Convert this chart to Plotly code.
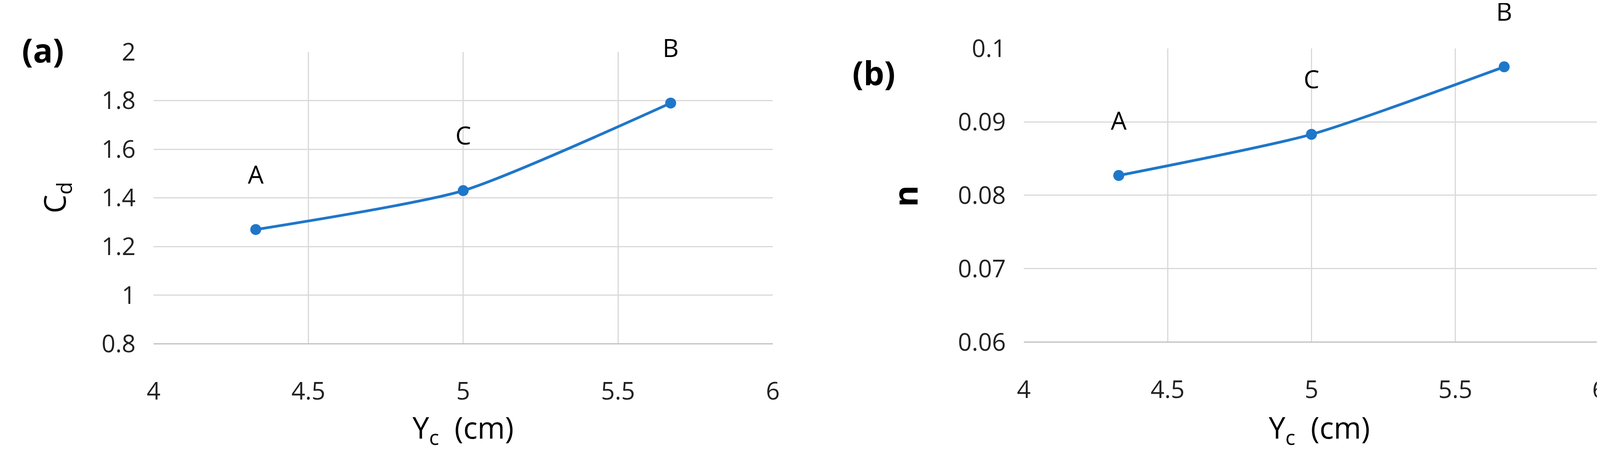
import plotly.graph_objects as go

yc = [4.33, 5.0, 5.67]
labels = ['A', 'C', 'B']
cd = [1.27, 1.43, 1.79]
n_vals = [0.0827, 0.0883, 0.0975]
xticks = [4, 4.5, 5, 5.5, 6]
cd_ticks = [0.8, 1, 1.2, 1.4, 1.6, 1.8, 2]
n_ticks = [0.06, 0.07, 0.08, 0.09, 0.1]

FONT = 'Open Sans'
blue = '#1f77c9'
fig = go.Figure()
for yvals, xa, ya in [(cd, 'x', 'y'), (n_vals, 'x2', 'y2')]:
    fig.add_trace(go.Scatter(
        x=yc, y=yvals, xaxis=xa, yaxis=ya, mode='lines+markers+text',
        text=['%s<br> ' % t for t in labels], textposition='top center',
        textfont=dict(size=64, color='black'),
        line=dict(color=blue, width=7, shape='spline', smoothing=0.6),
        marker=dict(color=blue, size=28), showlegend=False, cliponaxis=False))

axcommon = dict(showgrid=True, gridcolor='#d9d9d9', gridwidth=3, zeroline=False,
                tickfont=dict(size=62, color='#222'), ticks='', showline=False)
fig.update_layout(
    width=4208, height=1211, paper_bgcolor='white', plot_bgcolor='white',
    margin=dict(l=0, r=0, t=0, b=0), font=dict(family=FONT),
    xaxis=dict(domain=[0.088, 0.468], range=[4, 6], tickvals=xticks, anchor='y',
               ticklabelstandoff=80, **axcommon),
    yaxis=dict(domain=[0.265, 0.928], range=[0.8, 2], tickvals=cd_ticks, anchor='x',
               ticklabelstandoff=45, **axcommon),
    xaxis2=dict(domain=[0.622, 0.975], range=[4, 6], tickvals=xticks, anchor='y2',
                ticklabelstandoff=80, **axcommon),
    yaxis2=dict(domain=[0.269, 0.936], range=[0.06, 0.1], tickvals=n_ticks, anchor='x2',
                ticklabelstandoff=45, **axcommon),
)
# bottom axis line (slightly darker gridline)
for xa, ya in [('x', 'y'), ('x2', 'y2')]:
    fig.add_shape(type='line', xref=xa + ' domain', yref=ya + ' domain',
                  x0=0, x1=1, y0=0, y1=0, line=dict(color='#bfbfbf', width=3))

ann = [
    dict(text='<b>(a)</b>', x=85 / 4208, y=1 - 81 / 1211, size=84, angle=0),
    dict(text='<b>(b)</b>', x=2230 / 4208, y=1 - 143 / 1211, size=84, angle=0),
    dict(text='C<sub>d</sub>', x=118 / 4208, y=1 - 488 / 1211, size=76, angle=-90),
    dict(text='<b>n</b>', x=2310 / 4208, y=1 - 484 / 1211, size=84, angle=-90),
    dict(text='Y<sub>c</sub>  (cm)', x=1170 / 4208, y=1 - 1125 / 1211, size=76, angle=0),
    dict(text='Y<sub>c</sub>  (cm)', x=3380 / 4208, y=1 - 1125 / 1211, size=76, angle=0),
]
for a in ann:
    fig.add_annotation(text=a['text'], x=a['x'], y=a['y'], xref='paper', yref='paper',
                       xanchor='center', yanchor='middle', showarrow=False,
                       textangle=a['angle'], font=dict(size=a['size'], color='black', family=FONT))

fig.write_html("out.html")
